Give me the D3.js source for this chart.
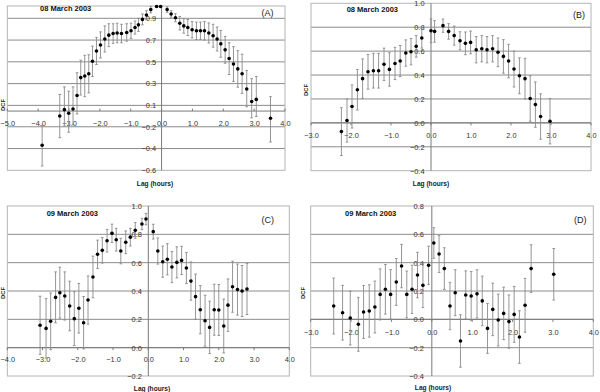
<!DOCTYPE html>
<html>
<head>
<meta charset="utf-8">
<script src="https://cdn.jsdelivr.net/npm/d3@7"></script>
<style>
  body { margin: 0; background: #fff; }
  svg { display: block; font-family: "Liberation Sans", Arial, sans-serif; }
</style>
</head>
<body>
<div id="chart"></div>
<script>
// Panel (A): 08 March 2003
const lagA = [-3.87, -3.30, -3.15, -3.01, -2.87, -2.74, -2.62, -2.49, -2.36, -2.24,
    -2.11, -1.98, -1.84, -1.71, -1.57, -1.44, -1.30, -1.13, -0.99, -0.86,
    -0.75, -0.62, -0.49, -0.35, -0.16, -0.03, 0.18, 0.31, 0.45, 0.59,
    0.72, 0.85, 0.99, 1.13, 1.26, 1.39, 1.53, 1.67, 1.80, 1.92,
    2.06, 2.19, 2.33, 2.47, 2.61, 2.76, 2.92, 3.07, 3.53];
const dcfA = [-0.37, -0.05, 0.04, -0.01, 0.05, 0.19, 0.355, 0.37, 0.39, 0.505,
    0.60, 0.655, 0.71, 0.745, 0.76, 0.765, 0.76, 0.77, 0.785, 0.815,
    0.84, 0.89, 0.93, 0.98, 1.01, 1.01, 0.98, 0.94, 0.905, 0.855,
    0.83, 0.815, 0.795, 0.785, 0.785, 0.785, 0.765, 0.74, 0.71, 0.665,
    0.61, 0.53, 0.48, 0.435, 0.39, 0.25, 0.135, 0.155, -0.08];
const errA = [0.19, 0.25, 0.23, 0.24, 0.22, 0.21, 0.16, 0.19, 0.175, 0.14,
    0.125, 0.12, 0.12, 0.105, 0.09, 0.09, 0.085, 0.08, 0.07, 0.06,
    0.06, 0.05, 0.04, 0.03, 0.01, 0.01, 0.025, 0.03, 0.037, 0.062,
    0.066, 0.074, 0.075, 0.08, 0.08, 0.085, 0.092, 0.105, 0.11, 0.123,
    0.123, 0.146, 0.16, 0.168, 0.18, 0.17, 0.21, 0.21, 0.26];

// Panel (B): 08 March 2003
const lagB = [-2.24, -2.10, -1.975, -1.84, -1.71, -1.575, -1.44, -1.31, -1.175, -1.04,
    -0.90, -0.77, -0.63, -0.50, -0.37, -0.23, 0.0, 0.09, 0.30, 0.44,
    0.58, 0.725, 0.86, 0.99, 1.13, 1.27, 1.40, 1.54, 1.675, 1.81,
    1.94, 2.075, 2.21, 2.35, 2.48, 2.61, 2.74, 2.975];
const dcfB = [-0.073, 0.02, 0.137, 0.277, 0.37, 0.427, 0.436, 0.436, 0.49, 0.447,
    0.497, 0.517, 0.584, 0.595, 0.64, 0.71, 0.77, 0.765, 0.813, 0.765,
    0.73, 0.687, 0.665, 0.673, 0.612, 0.62, 0.612, 0.62, 0.59, 0.556,
    0.517, 0.45, 0.394, 0.37, 0.204, 0.153, 0.053, 0.014];
const errB = [0.2, 0.18, 0.18, 0.17, 0.165, 0.145, 0.145, 0.145, 0.135, 0.14,
    0.135, 0.13, 0.11, 0.11, 0.09, 0.085, 0.1, 0.09, 0.055, 0.065,
    0.08, 0.075, 0.095, 0.095, 0.11, 0.11, 0.11, 0.11, 0.12, 0.14,
    0.14, 0.15, 0.15, 0.17, 0.19, 0.19, 0.19, 0.19];

// Panel (C): 09 March 2003
const lagC = [-3.07, -2.90, -2.77, -2.63, -2.51, -2.37, -2.23, -2.10, -1.97, -1.835,
    -1.71, -1.57, -1.44, -1.305, -1.17, -1.03, -0.91, -0.78, -0.64, -0.51,
    -0.37, -0.18, -0.066, 0.14, 0.27, 0.41, 0.54, 0.67, 0.81, 0.945,
    1.08, 1.21, 1.34, 1.475, 1.61, 1.74, 1.87, 2.0, 2.14, 2.26,
    2.39, 2.53, 2.66, 2.80];
const dcfC = [0.158, 0.136, 0.186, 0.355, 0.388, 0.365, 0.294, 0.205, 0.278, 0.176,
    0.336, 0.499, 0.659, 0.687, 0.755, 0.807, 0.762, 0.682, 0.744, 0.78,
    0.828, 0.873, 0.908, 0.819, 0.682, 0.607, 0.624, 0.569, 0.602, 0.616,
    0.562, 0.47, 0.36, 0.268, 0.19, 0.143, 0.268, 0.266, 0.153, 0.30,
    0.43, 0.41, 0.40, 0.414];
const errC = [0.205, 0.21, 0.2, 0.18, 0.18, 0.17, 0.175, 0.19, 0.175, 0.185,
    0.17, 0.147, 0.1, 0.09, 0.08, 0.065, 0.08, 0.09, 0.08, 0.062,
    0.055, 0.04, 0.04, 0.052, 0.092, 0.11, 0.11, 0.11, 0.11, 0.1,
    0.11, 0.135, 0.16, 0.17, 0.18, 0.185, 0.18, 0.18, 0.19, 0.185,
    0.18, 0.18, 0.18, 0.18];

// Panel (D): 09 March 2003
const lagD = [-2.43, -2.21, -2.02, -1.82, -1.69, -1.55, -1.41, -1.28, -1.15, -1.02,
    -0.88, -0.75, -0.62, -0.49, -0.355, -0.22, -0.08, 0.05, 0.18, 0.31,
    0.45, 0.58, 0.71, 0.84, 0.975, 1.12, 1.25, 1.38, 1.51, 1.645,
    1.78, 1.91, 2.04, 2.17, 2.31, 2.46, 3.02];
const dcfD = [0.094, 0.047, 0.009, -0.035, 0.052, 0.059, 0.087, 0.176, 0.212, 0.176,
    0.264, 0.376, 0.176, 0.212, 0.313, 0.24, 0.381, 0.539, 0.461, 0.358,
    0.094, 0.188, -0.153, 0.172, 0.165, 0.18, 0.13, -0.064, 0.07, -0.005,
    0.042, -0.016, 0.035, -0.125, 0.099, 0.358, 0.318];
const errD = [0.197, 0.193, 0.19, 0.19, 0.187, 0.185, 0.183, 0.18, 0.175, 0.175,
    0.165, 0.153, 0.165, 0.17, 0.16, 0.157, 0.135, 0.108, 0.13, 0.147,
    0.167, 0.162, 0.185, 0.17, 0.172, 0.17, 0.175, 0.176, 0.185, 0.183,
    0.185, 0.188, 0.197, 0.186, 0.19, 0.168, 0.182];

// Tick values and labels
const xTicksA = [-5, -4, -3, -2, -1, 0, 1, 2, 3, 4];
const xTicksBD = [-3, -2, -1, 0, 1, 2, 3, 4];
const xTicksC = [-4, -3, -2, -1, 0, 1, 2, 3, 4];
// panel A has a broken y axis: labels jump from -0.2 to 0.1
const yTicksA = [-0.6, -0.4, -0.2, 0.1, 0.3, 0.5, 0.7, 0.9];
const yTicksB = [-0.4, -0.2, 0.0, 0.2, 0.4, 0.6, 0.8, 1.0];
const yTicksC = [-0.2, 0.0, 0.2, 0.4, 0.6, 0.8, 1.0];
const yTicksD = [-0.4, -0.2, 0.0, 0.2, 0.4, 0.6, 0.8];

const dates = ['08 March 2003', '08 March 2003', '09 March 2003', '09 March 2003'];
const letters = ['(A)', '(B)', '(C)', '(D)'];

// Layout of each panel (pixels)
const panels = [
    {lag: lagA, dcf: dcfA, err: errA, xTicks: xTicksA, yTicks: yTicksA,
     x0: 7.3, x1: 285, y0: 6, y1: 170.3, xDom: [-5, 4], yDom: [-0.6, 1.013],
     brk: [-0.2, 0.1], gap: 21.4, axisAt: 0.02, xPad: 9.5, yPad: 5.5, tickDir: -1,
     title: [40, 8.5], letter: [261.5, 12.5], ylab: [3, 105], xlab: [155, 183.5]},
    {lag: lagB, dcf: dcfB, err: errB, xTicks: xTicksBD, yTicks: yTicksB,
     x0: 311, x1: 591, y0: 3.3, y1: 170.7, xDom: [-3, 4], yDom: [-0.4, 1.0],
     axisAt: 0, xPad: 9.5, yPad: 6.5, tickDir: 1,
     title: [346.7, 9.5], letter: [573, 14.5], ylab: [306, 90], xlab: [431, 184]},
    {lag: lagC, dcf: dcfC, err: errC, xTicks: xTicksC, yTicks: yTicksC,
     x0: 7.3, x1: 289.3, y0: 206, y1: 376, xDom: [-4, 4], yDom: [-0.2, 1.0],
     axisAt: 0, xPad: 9.5, yPad: 6.5, tickDir: 1,
     title: [46.7, 213], letter: [261.5, 219.5], ylab: [3, 293], xlab: [152, 389]},
    {lag: lagD, dcf: dcfD, err: errD, xTicks: xTicksBD, yTicks: yTicksD,
     x0: 310.7, x1: 593.3, y0: 206, y1: 376, xDom: [-3, 4], yDom: [-0.4, 0.8],
     axisAt: 0, xPad: 10, yPad: 8, tickDir: 1,
     title: [345, 213], letter: [574, 219.5], ylab: [303, 293], xlab: [433, 388]}
];

const svg = d3.select('#chart')
    .append('svg')
    .attr('width', 600)
    .attr('height', 392);

panels.forEach((p, i) => {
    const w = p.x1 - p.x0;
    const h = p.y1 - p.y0;
    const g = svg.append('g').attr('transform', `translate(${p.x0},${p.y0})`);

    const x = d3.scaleLinear().domain(p.xDom).range([0, w]);

    let y;
    if (p.brk) {
        // piecewise scale for the broken axis
        const k = (h - p.gap) / ((p.brk[0] - p.yDom[0]) + (p.yDom[1] - p.brk[1]));
        const yLow = h - (p.brk[0] - p.yDom[0]) * k;
        y = d3.scaleLinear()
            .domain([p.yDom[0], p.brk[0], p.brk[1], p.yDom[1]])
            .range([h, yLow, yLow - p.gap, 0]);
    } else {
        y = d3.scaleLinear().domain(p.yDom).range([h, 0]);
    }

    // gridlines
    g.selectAll('.grid')
        .data(p.yTicks.filter(v => v > p.yDom[0] && v < p.yDom[1]))
        .enter().append('line')
        .attr('x1', 0).attr('x2', w)
        .attr('y1', d => y(d)).attr('y2', d => y(d))
        .attr('stroke', '#8c8c8c')
        .attr('stroke-width', 1);

    // frame
    g.append('rect')
        .attr('width', w).attr('height', h)
        .attr('fill', 'none')
        .attr('stroke', '#b4b4b4')
        .attr('stroke-width', 1);

    // axis lines through zero
    g.append('line')
        .attr('x1', 0).attr('x2', w)
        .attr('y1', y(p.axisAt)).attr('y2', y(p.axisAt))
        .attr('stroke', '#7a7a7a');
    g.append('line')
        .attr('x1', x(0)).attr('x2', x(0))
        .attr('y1', 0).attr('y2', h)
        .attr('stroke', '#7a7a7a');

    // small tick marks on the x axis
    g.selectAll('.xtick')
        .data(p.xTicks)
        .enter().append('line')
        .attr('x1', d => x(d)).attr('x2', d => x(d))
        .attr('y1', y(p.axisAt) + 2.5 * p.tickDir).attr('y2', y(p.axisAt))
        .attr('stroke', '#7a7a7a');

    // x tick labels
    const xAxis = g.append('g')
        .attr('transform', `translate(0,${y(p.axisAt)})`)
        .call(d3.axisBottom(x).tickValues(p.xTicks).tickSize(0).tickPadding(p.xPad)
            .tickFormat(d3.format('.1f')));
    xAxis.select('.domain').remove();
    xAxis.selectAll('text')
        .style('font-size', '7.4px')
        .attr('fill', '#333');

    // y tick labels next to the vertical axis
    const yAxis = g.append('g')
        .attr('transform', `translate(${x(0)},0)`)
        .call(d3.axisLeft(y).tickValues(p.yTicks).tickSize(0).tickPadding(p.yPad)
            .tickFormat(d3.format('.1f')));
    yAxis.select('.domain').remove();
    yAxis.selectAll('text')
        .style('font-size', '7.4px')
        .attr('fill', '#333');

    const pts = p.lag.map((d, j) => ({lag: d, dcf: p.dcf[j], err: p.err[j]}));

    // error bars
    const bars = g.append('g').attr('stroke', '#8a8a8a').attr('stroke-width', 0.9);
    pts.forEach(d => {
        const cx = x(d.lag);
        const top = Math.max(0, y(d.dcf + d.err));
        const bot = Math.min(h, y(d.dcf - d.err));
        bars.append('line').attr('x1', cx).attr('x2', cx).attr('y1', top).attr('y2', bot);
        bars.append('line').attr('x1', cx - 1.3).attr('x2', cx + 1.3).attr('y1', top).attr('y2', top);
        bars.append('line').attr('x1', cx - 1.3).attr('x2', cx + 1.3).attr('y1', bot).attr('y2', bot);
    });

    // markers
    g.selectAll('.pt')
        .data(pts)
        .enter().append('circle')
        .attr('cx', d => x(d.lag))
        .attr('cy', d => Math.max(0.5, y(d.dcf)))
        .attr('r', 1.8)
        .attr('fill', '#000');

    // date title
    svg.append('text')
        .attr('x', p.title[0]).attr('y', p.title[1])
        .attr('dy', '0.35em')
        .style('font-size', '7.5px')
        .style('font-weight', 'bold')
        .attr('fill', '#111')
        .text(dates[i]);

    // panel letter
    svg.append('text')
        .attr('x', p.letter[0]).attr('y', p.letter[1])
        .attr('dy', '0.35em')
        .style('font-size', '9px')
        .attr('fill', '#222')
        .text(letters[i]);

    // axis titles
    svg.append('text')
        .attr('transform', `translate(${p.ylab[0]},${p.ylab[1]}) rotate(-90)`)
        .attr('text-anchor', 'middle')
        .attr('dy', '0.35em')
        .style('font-size', '5.8px')
        .style('font-weight', 'bold')
        .attr('fill', '#222')
        .text('DCF');

    svg.append('text')
        .attr('x', p.xlab[0]).attr('y', p.xlab[1])
        .attr('text-anchor', 'middle')
        .attr('dy', '0.35em')
        .style('font-size', '6.6px')
        .style('font-weight', 'bold')
        .attr('fill', '#222')
        .text('Lag (hours)');
});
</script>
</body>
</html>
